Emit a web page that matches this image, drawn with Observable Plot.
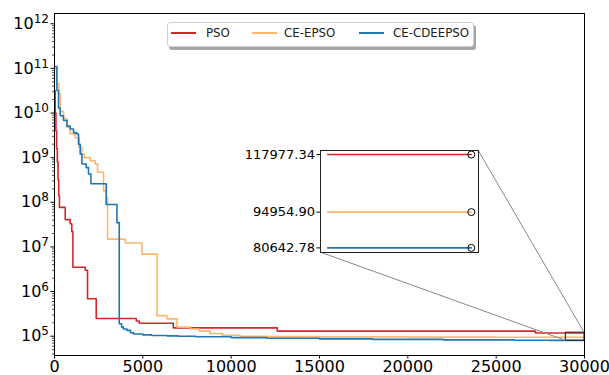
<!DOCTYPE html>
<html><head><meta charset="utf-8">
<script src="https://cdn.jsdelivr.net/npm/d3@7"></script>
<script src="https://cdn.jsdelivr.net/npm/@observablehq/plot@0.6"></script>
<style>
body{margin:0;background:#fff;font-family:"DejaVu Sans",sans-serif;}
#wrap{position:relative;width:609px;height:375px;overflow:hidden;}
#inset{position:absolute;left:247px;top:140px;}
#legend{position:absolute;left:167px;top:22px;width:305px;height:23px;border:1px solid #cfcfcf;border-radius:3px;background:#fff;box-shadow:2px 3px 0 rgba(0,0,0,0.35);font-size:11.8px;color:#222;}
#legend .sw{position:absolute;top:9px;width:25px;height:2px;}
#legend .lb{position:absolute;top:4px;line-height:13px;white-space:nowrap;}
</style></head><body><div id="wrap"></div>
<script>
// ---- data ----
const seriesNames = ["PSO", "CE-EPSO", "CE-CDEEPSO"];
const seriesColors = ["#d62728", "#ffb56e", "#1f77b4"];

const iterPSO = [0, 40, 80, 120, 160, 200, 240, 280, 606, 889, 980, 1042, 1739, 1869, 2362, 4627, 4797, 6723, 12614, 27225, 30000];
const valPSO  = [3.2e10, 1e10, 4e9, 1.6e9, 8e8, 3.2e8, 1.4e8, 7.7e7, 4.1e7, 3.3e7, 2.2e7, 3.5e6, 3.0e6, 6.9e5, 2.5e5, 2.2e5, 1.95e5, 1.54e5, 1.3e5, 117977.34, 117977.34];

const iterEPSO = [0, 120, 249, 323, 510, 702, 889, 1172, 1399, 1552, 1682, 2022, 2305, 2436, 2775, 2928, 3002, 4005, 4950, 5800, 6366, 6933, 7700, 8200, 8800, 9500, 10500, 12000, 15000, 20000, 25000, 28000, 30000];
const valEPSO  = [1e11, 4.5e10, 2.7e10, 1.1e10, 7.4e9, 4.8e9, 3.4e9, 2.8e9, 1.7e9, 1.2e9, 1.0e9, 8.5e8, 7.2e8, 4.7e8, 1.8e8, 1.3e8, 1.5e7, 1.23e7, 6.9e6, 2.9e5, 2.45e5, 1.6e5, 1.45e5, 1.3e5, 1.15e5, 1.05e5, 1.0e5, 9.8e4, 9.65e4, 9.55e4, 9.5e4, 94954.90, 94954.90];

const iterCD = [0, 136, 227, 323, 510, 702, 889, 1076, 1269, 1359, 1455, 1552, 1795, 1926, 2062, 2928, 3534, 3665, 3800, 3900, 4101, 4300, 4475, 5000, 5500, 6366, 7000, 8000, 10000, 12000, 15000, 18000, 22000, 26000, 28000, 30000];
const valCD  = [1.1e11, 3.2e10, 1.3e10, 8.7e9, 6.8e9, 5.1e9, 4.4e9, 3.6e9, 3.4e9, 2.0e9, 1.2e9, 7.2e8, 6.0e8, 4.3e8, 2.6e8, 8.9e7, 3.5e7, 1.9e5, 1.6e5, 1.45e5, 1.35e5, 1.2e5, 1.12e5, 1.07e5, 1.04e5, 1.02e5, 1.0e5, 9.7e4, 9.3e4, 9.0e4, 8.7e4, 8.5e4, 8.3e4, 8.15e4, 80642.78, 80642.78];

const xTicks = [0, 5000, 10000, 15000, 20000, 25000, 30000];
const yExponents = [5, 6, 7, 8, 9, 10, 11, 12];
const insetXDomain = [28950, 30050];
const insetYDomain = [78800, 119600];
const insetStart = 29000;

// ---- build ----
const series = [
  {name: seriesNames[0], x: iterPSO, y: valPSO},
  {name: seriesNames[1], x: iterEPSO, y: valEPSO},
  {name: seriesNames[2], x: iterCD, y: valCD}
];
const rows = series.flatMap(s => s.x.map((x, i) => ({series: s.name, x, y: s.y[i]})));
const colorScale = {domain: seriesNames, range: seriesColors};
const yDomain = [10 ** 4.568, 10 ** 12.23];
const majorTicks = yExponents.map(k => 10 ** k);
const minorTicks = [];
for (let k = 4; k <= 12; k++) for (let m = 2; m <= 9; m++) {
  const v = m * 10 ** k; if (v >= yDomain[0] && v <= yDomain[1]) minorTicks.push(v);
}
const rectX1 = insetXDomain[0], rectX2 = Math.min(insetXDomain[1], 30000);

const font = "DejaVu Sans, sans-serif";
const main = Plot.plot({
  width: 609, height: 375,
  marginLeft: 54, marginRight: 25, marginTop: 13, marginBottom: 20,
  x: {domain: [0, 30000], label: null},
  y: {type: "log", domain: yDomain, label: null},
  color: colorScale,
  style: {fontFamily: font, fontSize: "16px", background: "white", color: "black"},
  marks: [
    Plot.axisX({ticks: xTicks, tickSize: 3.5, tickPadding: 2, tickFormat: d => String(d), fontSize: 16}),
    Plot.axisY({ticks: minorTicks, tickSize: 2, tickFormat: () => "", strokeWidth: 0.7}),
    Plot.axisY({ticks: majorTicks, tickSize: 3.5, tickPadding: 2, tickFormat: d => String(Math.round(Math.log10(d))), fontSize: 16}),
    Plot.line(rows, {x: "x", y: "y", stroke: "series", z: "series", curve: "step-after", strokeWidth: 1.6}),
    Plot.rect([0], {x1: rectX1, x2: rectX2, y1: insetYDomain[0], y2: insetYDomain[1], fill: "none", stroke: "#333", strokeWidth: 1.2}),
    Plot.frame({stroke: "black", strokeWidth: 1})
  ]
});

// superscript y labels
d3.select(main).selectAll('g[aria-label="y-axis tick label"] text').each(function () {
  const t = this.textContent; if (!t) return;
  const sel = d3.select(this); sel.text(null);
  sel.append("tspan").text("10");
  sel.append("tspan").attr("dy", "-0.5em").attr("font-size", "12px").text(t);
});

// connectors
const sx = main.scale("x"), sy = main.scale("y");
const insetFrame = {left: 320, right: 478, top: 150, bottom: 252};
const conn = d3.select(main).append("g").attr("stroke", "#888").attr("stroke-width", 1);
conn.append("line").attr("x1", insetFrame.right).attr("y1", insetFrame.top)
  .attr("x2", sx.apply(rectX2)).attr("y2", sy.apply(insetYDomain[1]));
conn.append("line").attr("x1", insetFrame.left).attr("y1", insetFrame.bottom)
  .attr("x2", sx.apply(rectX1)).attr("y2", sy.apply(insetYDomain[0]));

// inset
function valueAt(s, X) { let v = s.y[0]; for (let i = 0; i < s.x.length; i++) if (s.x[i] <= X) v = s.y[i]; return v; }
const insetRows = series.flatMap(s => [{series: s.name, x: insetStart, y: valueAt(s, insetStart)}]
  .concat(s.x.map((x, i) => ({series: s.name, x, y: s.y[i]})).filter(d => d.x > insetStart)));
const finals = series.map(s => ({series: s.name, x: s.x[s.x.length - 1], y: s.y[s.y.length - 1]}));
const inset = Plot.plot({
  width: 233, height: 122, marginLeft: 73, marginRight: 2, marginTop: 10, marginBottom: 10,
  x: {domain: insetXDomain, axis: null},
  y: {domain: insetYDomain, label: null},
  color: colorScale,
  style: {fontFamily: font, fontSize: "13px", background: "none", color: "black", overflow: "visible"},
  marks: [
    Plot.frame({fill: "white"}),
    Plot.axisY({ticks: finals.map(d => d.y), tickFormat: d => d.toFixed(2), tickSize: 3.5, tickPadding: 2, fontSize: 13}),
    Plot.line(insetRows, {x: "x", y: "y", stroke: "series", z: "series", curve: "step-after", strokeWidth: 1.6}),
    Plot.dot(finals, {x: "x", y: "y", r: 3.5, stroke: "black", fill: "none", strokeWidth: 1}),
    Plot.frame({stroke: "#222", strokeWidth: 1})
  ]
});
inset.id = "inset";

const wrap = document.getElementById("wrap");
wrap.appendChild(main);
wrap.appendChild(inset);

// legend
const legend = document.createElement("div");
legend.id = "legend";
const swX = [3, 84, 191], lbX = [38, 116, 225];
seriesNames.forEach((n, i) => {
  const sw = document.createElement("div"); sw.className = "sw";
  sw.style.left = swX[i] + "px"; sw.style.background = seriesColors[i];
  const lb = document.createElement("div"); lb.className = "lb";
  lb.style.left = lbX[i] + "px"; lb.textContent = n;
  legend.appendChild(sw); legend.appendChild(lb);
});
wrap.appendChild(legend);
</script></body></html>
